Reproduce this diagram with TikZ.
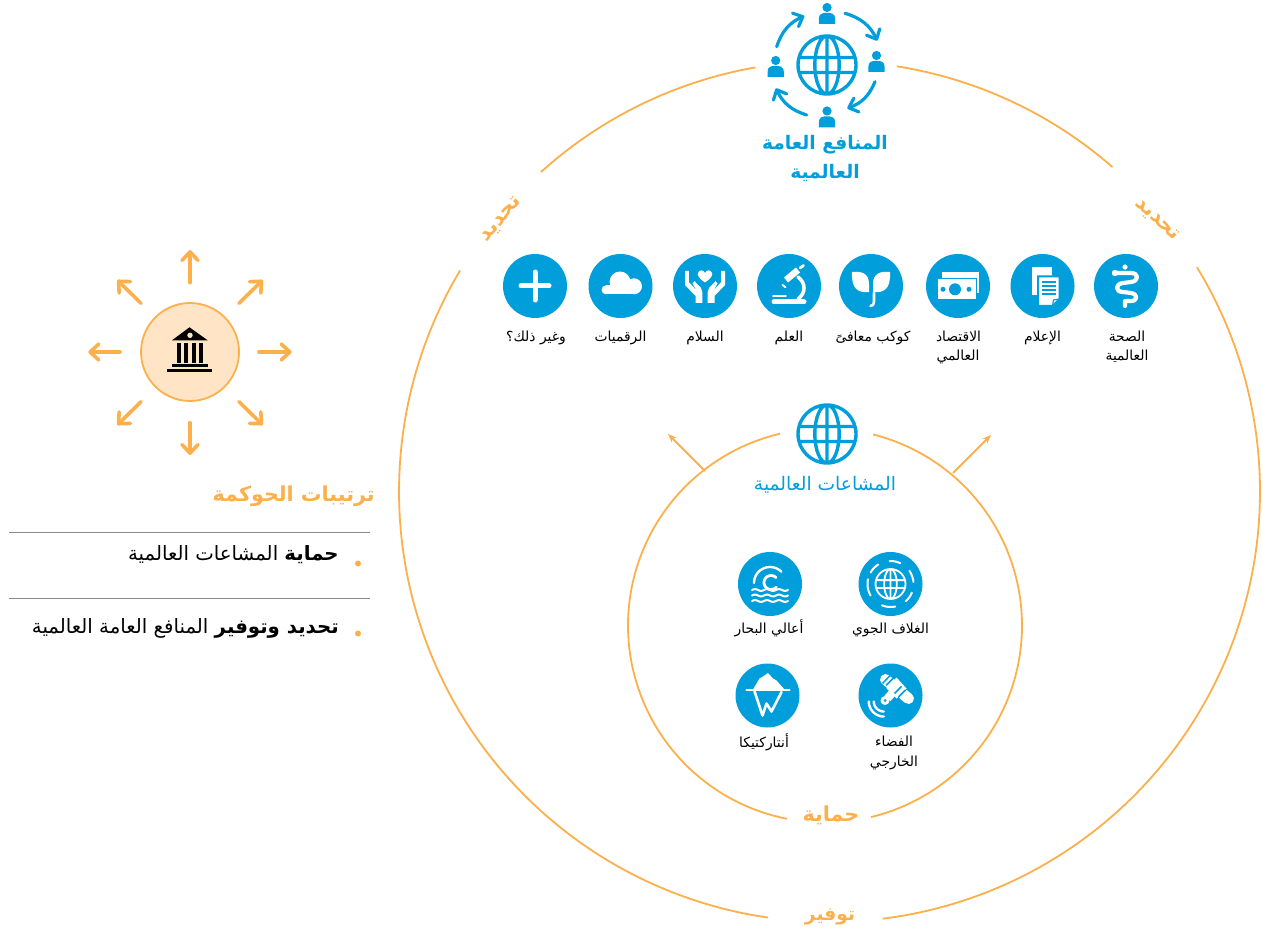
\documentclass[tikz,border=0pt]{standalone}
\usepackage{fontspec}
\setmainfont[Script=Arabic]{DejaVu Sans}
\TeXXeTstate=1
\usetikzlibrary{arrows.meta}
\definecolor{unblue}{HTML}{009EDB}
\definecolor{unorange}{HTML}{FBB04C}
\definecolor{palefill}{HTML}{FFE4C6}
\definecolor{rulegrey}{HTML}{8A8A8C}
\newcommand\AR[1]{\beginR #1\endR}
\newcommand\fsz[1]{\fontsize{#1}{#1}\selectfont}
\newcommand\ringarc[5]{\draw[ringline] plot[domain=#4:#5,samples=120] ({#1+#3*cos(\x)},{#2+#3*sin(\x)});}
\newcommand\wglobe[3]{%
  \pgfmathsetmacro\glR{#1}\pgfmathsetmacro\glE{0.42*#1}\pgfmathsetmacro\glH{0.26*#1}\pgfmathsetmacro\glC{0.965*#1}%
  \draw[#3,lw=#2] (0,0) circle [radius=\glR] (0,0) ellipse [x radius=\glE,y radius=\glR] (0,-\glR)--(0,\glR) (-\glC,-\glH)--(\glC,-\glH) (-\glC,\glH)--(\glC,\glH);}
\newcommand\person[2]{\begin{scope}[shift={(#1,#2)}]
  \fill[unblue] (0,-6.5) circle (4.6);
  \fill[unblue] (-8.2,10) -- (-8.2,5) .. controls (-8.2,-0.5) and (-4,-1.2) .. (0,-1.2) .. controls (4,-1.2) and (8.2,-0.5) .. (8.2,5) -- (8.2,10) -- cycle;
\end{scope}}
\tikzset{
  x=0.75pt,y=-0.75pt,
  lw/.style={line width=#1*0.75pt},
  ringline/.style={draw=unorange,lw=1.8},
  iconbg/.style={circle,fill=unblue,minimum size=48pt,inner sep=0pt,draw=none},
  labeltext/.style={anchor=base,text=black,inner sep=0pt,font=\fsz{10.4}},
  titleorange/.style={anchor=base,text=unorange,inner sep=0pt,font=\bfseries\fsz{15.5}},
  titleblue/.style={anchor=base,text=unblue,inner sep=0pt,font=\bfseries\fsz{14}},
  blackitem/.style={anchor=base east,text=black,inner sep=0pt,font=\fsz{14.8}},
  sprout/.style={-{Stealth[length=6.5pt,width=5pt]},draw=unorange,lw=1.8},
  rayline/.style={-{Straight Barb[length=6.5pt,width=12pt,round]},draw=unorange,lw=3.6,line cap=round},
  swirl/.style={-{Straight Barb[length=6pt,width=11pt,round]},draw=unblue,lw=3.2,line cap=round},
  wst/.style={draw=white,line cap=round,line join=round},
}
\begin{document}
\begin{tikzpicture}
\useasboundingbox (0,0) rectangle (1263,930);
% rings
\ringarc{829.5}{491.5}{430.5}{-81}{-48.9}
\ringarc{829.5}{491.5}{430.5}{-31.4}{82.9}
\ringarc{829.5}{491.5}{430.5}{98.2}{210.9}
\ringarc{829.5}{491.5}{430.5}{227.9}{260.1}
\ringarc{825}{625.5}{197}{-75.9}{76.5}
\ringarc{825}{625.5}{197}{101.1}{256.8}
\coordinate (sa) at (705,471); \coordinate (sb) at (668,434);
\coordinate (sc) at (953,473); \coordinate (sd) at (991,435);
\draw[sprout] (sa) -- (sb);
\draw[sprout] (sc) -- (sd);
% ring labels
\node[titleorange,rotate=49] (lblL) at (504,222) {\AR{تحديد}};
\node[titleorange,rotate=-43] (lblR) at (1154.6,222.6) {\AR{تحديد}};
\node[titleorange] (lblP) at (831,821) {\AR{حماية}};
\node[titleorange,font=\bfseries\fsz{14}] (lblQ) at (830,920) {\AR{توفير}};
% top emblem
\begin{scope}[shift={(827,65)}]\wglobe{29}{3.4}{unblue}\end{scope}
\person{827}{14}\person{876.5}{62}\person{827}{117.5}\person{775.7}{67}
\coordinate (t1) at (845,13.3); \coordinate (t1e) at (877.3,40.7);
\coordinate (t2) at (875,81.7); \coordinate (t2e) at (847.3,108.3);
\coordinate (t3) at (806.7,115); \coordinate (t3e) at (776,88.3);
\coordinate (t4) at (776.7,46.7); \coordinate (t4e) at (804.3,16);
\draw[swirl] (t1) to[bend left=24] (t1e);
\draw[swirl] (t2) to[bend left=24] (t2e);
\draw[swirl] (t3) to[bend left=24] (t3e);
\draw[swirl] (t4) to[bend left=24] (t4e);
\node[titleblue] (tt1) at (825,150) {\AR{المنافع العامة}};
\node[titleblue] (tt2) at (825,179) {\AR{العالمية}};
% commons heading
\begin{scope}[shift={(827,434)}]\wglobe{29}{3.4}{unblue}\end{scope}
\node[titleblue,font=\fsz{14}] (cm) at (825,490) {\AR{المشاعات العالمية}};
% top row icons
\node[iconbg] (hA) at (1126,286) {};
\node[iconbg] (hB) at (1042.5,286) {};
\node[iconbg] (hC) at (958,286) {};
\node[iconbg] (hD) at (871,286) {};
\node[iconbg] (hE) at (789,286) {};
\node[iconbg] (hF) at (705,286) {};
\node[iconbg] (hG) at (620.5,286) {};
\node[iconbg] (hH) at (535,286) {};
\node[labeltext] (la1) at (1127,342) {\AR{الصحة}};
\node[labeltext] (la2) at (1127,361) {\AR{العالمية}};
\node[labeltext] (lb) at (1042.5,342) {\AR{الإعلام}};
\node[labeltext] (lc1) at (958.5,342) {\AR{الاقتصاد}};
\node[labeltext] (lc2) at (958,361) {\AR{العالمي}};
\node[labeltext] (ld) at (873,342) {\AR{كوكب معافىً}};
\node[labeltext] (le) at (789,342) {\AR{العلم}};
\node[labeltext] (lf) at (705,342) {\AR{السلام}};
\node[labeltext] (lg) at (620.5,342) {\AR{الرقميات}};
\node[labeltext] (lh) at (536,342) {\AR{وغير ذلك؟}};
% health
\begin{scope}[shift={(hA.center)}]
\draw[wst,lw=4.2] (-10,-13) -- (5,-13) .. controls (13,-13) and (13,-5) .. (5,-4) -- (-3,-3) .. controls (-11,-2) and (-11,6) .. (-3,6) -- (5,7) .. controls (12,8) and (12,15) .. (5,15) -- (-1,15) (-1,15)--(-1,20);
\fill[white] (-11,-13) circle (3.2);
\fill[white] (-1,-19) circle (2.6);
\end{scope}
% media
\begin{scope}[shift={(hB.center)}]
\fill[white] (-11,-19) rectangle (9,9);
\fill[white,draw=unblue,lw=2] (-4.5,-9.7) -- (17,-9.7) -- (17,13) -- (10,20) -- (-4.5,20) -- cycle;
\draw[unblue,lw=1.5] (-0.7,-4)--(13,-4) (-0.7,0)--(13,0) (-0.7,4)--(13,4) (-0.7,8)--(13,8);
\draw[unblue,lw=1.2] (17,13) -- (11,14) -- (10,20);
\end{scope}
% money
\begin{scope}[shift={(hC.center)}]
\fill[white] (-16.5,-13.5) rectangle (21,7);
\fill[white,draw=unblue,lw=1.5] (-20.5,-7.5) rectangle (18.5,13.5);
\fill[unblue] (-3,3.3) circle (6);
\fill[unblue] (-15,3.3) circle (2.5);
\fill[unblue] (11,3.3) circle (2.5);
\end{scope}
% plant
\begin{scope}[shift={(hD.center)}]
\fill[white] (-19,-14) .. controls (-10,-15) and (-2,-13) .. (-2,-2) -- (-2,6) .. controls (-12,7) and (-20,4) .. (-19,-14) -- cycle;
\fill[white] (19,-14) .. controls (10,-15) and (2,-13) .. (2,-2) -- (2,6) .. controls (12,7) and (20,4) .. (19,-14) -- cycle;
\draw[wst,lw=2.6] (3,7) -- (3,15) .. controls (3,19) and (1,20) .. (-0.5,20);
\end{scope}
% microscope
\begin{scope}[shift={(hE.center)}]
\draw[wst,lw=5] (-15,16) -- (15,16);
\draw[wst,lw=1.8] (-16,9.8) -- (-3,9.8);
\draw[wst,lw=6.5,line cap=butt] (-3,-6) -- (9,-16);
\draw[wst,lw=2.8] (11,-18) -- (14.5,-20.5);
\draw[wst,lw=2] (-6.5,-1) -- (-3.5,1.2);
\draw[wst,lw=3.6] (9,-9) .. controls (17,-3) and (17,7) .. (9,13);
\end{scope}
% hands
\begin{scope}[shift={(hF.center)}]
\fill[white] (0,-3.5) .. controls (-5,-7) and (-8,-10) .. (-7,-13) .. controls (-6,-16.5) and (-1.5,-16.5) .. (0,-13) .. controls (1.5,-16.5) and (6,-16.5) .. (7,-13) .. controls (8,-10) and (5,-7) .. (0,-3.5) -- cycle;
\foreach \s in {1,-1}{
\fill[white] (-20*\s,-15) -- (-16.2*\s,-15) -- (-16.2*\s,-4) -- (-8.5*\s,4.5) -- (-12.5*\s,-2.5) -- (-10.5*\s,-4.8) -- (-4*\s,2) -- (-2.7*\s,6) -- (-2.7*\s,17) -- (-9.5*\s,17) -- (-9.5*\s,10) -- (-20*\s,-1) -- cycle;
}
\end{scope}
% cloud
\begin{scope}[shift={(hG.center)}]
\fill[white] (-0.5,-4) circle (10.5);
\fill[white] (13.5,0.3) circle (8);
\fill[white] (-14.5,3.8) circle (4.5);
\fill[white] (-14.5,-0.7) rectangle (13.5,8.3);
\end{scope}
% plus
\begin{scope}[shift={(hH.center)}]
\draw[wst,lw=5] (-14,0)--(14,0) (0,-14)--(0,14);
\end{scope}
% commons icons
\node[iconbg] (cA) at (890.5,584) {};
\node[iconbg] (cB) at (770,584) {};
\node[iconbg] (cC) at (890.5,695.5) {};
\node[iconbg] (cD) at (767.5,695.5) {};
\node[labeltext] (ca) at (890.5,633) {\AR{الغلاف الجوي}};
\node[labeltext] (cb) at (769,633) {\AR{أعالي البحار}};
\node[labeltext] (cc1) at (894,746.5) {\AR{الفضاء}};
\node[labeltext] (cc2) at (894,766.5) {\AR{الخارجي}};
\node[labeltext] (cd) at (764,747.5) {\AR{أنتاركتيكا}};
% atmosphere
\begin{scope}[shift={(cA.center)}]
\wglobe{15}{1.8}{white}
\foreach \a/\b in {-92/-65,-150/-122,-35/-5,22/48,78/112,150/192}{
\draw[wst,lw=2] plot[domain=\a:\b,samples=20] ({23*cos(\x)},{23*sin(\x)});}
\end{scope}
% ocean
\begin{scope}[shift={(cB.center)}]
\draw[wst,lw=2.4] plot[domain=180:315,samples=30] ({16*cos(\x)},{-1+16*sin(\x)});
\draw[wst,lw=2.8] plot[domain=40:315,samples=30] ({1+7*cos(\x)},{-1.5+7*sin(\x)});
\foreach \y in {6,11.5,17}{
\draw[wst,lw=2] plot[domain=-18:18,samples=40] (\x,{\y+0.9*sin(\x*30)});}
\end{scope}
% satellite
\begin{scope}[shift={(cC.center)}]
\draw[white,lw=11,line cap=round] (-5,-16) -- (1,-11);
\draw[white,lw=11,line cap=round] (13,-1) -- (18,3);
\fill[white] (6,-18) -- (16,-7) -- (6,3) -- (-4,-7) -- cycle;
\draw[white,lw=8] (3,-4) -- (-3,3);
\fill[white] (-5.5,5) circle (4.5);
\draw[unblue,lw=1.5] (-0.5,-20) -- (-8,-12) (11,-9) -- (4,-2) (2.5,-17) -- (-4.5,-10) (15,-5.5) -- (8,1.5);
\fill[unblue] (-5.5,5) circle (1.5);
\draw[wst,lw=2.4] plot[domain=90:180,samples=20] ({-6.7+10*cos(\x)},{6+10*sin(\x)});
\draw[wst,lw=2.4] plot[domain=90:180,samples=20] ({-6.7+15*cos(\x)},{6+15*sin(\x)});
\end{scope}
% antarctica
\begin{scope}[shift={(cD.center)}]
\fill[white] (-14.5,-6) -- (-8,-17) -- (-4.5,-19) -- (0.5,-22.5) -- (5.5,-17) -- (9,-15) -- (17,-6) -- cycle;
\draw[wst,lw=2.4] (-21,-5.3) -- (22,-5.3);
\draw[wst,lw=2.6] (-13,-4.3) -- (-5,20) -- (-1,8) -- (4,16) -- (14,-3.5);
\end{scope}
% governance
\node[circle,fill=palefill,draw=unorange,lw=1.8,minimum size=73.5pt,inner sep=0pt] (gov) at (190,352) {};
\begin{scope}[shift={(gov.center)}]
\fill[black] (-18,-11.7) -- (-0.5,-24.7) -- (17.7,-11.7) -- cycle;
\fill[palefill] (0,-16.7) circle (2.7);
\fill[black] (-13,-9.3) rectangle (-9,10.7);
\fill[black] (-5.7,-9.3) rectangle (-1.7,10.7);
\fill[black] (2,-9.3) rectangle (6,10.7);
\fill[black] (9.3,-9.3) rectangle (13.3,10.7);
\fill[black] (-18.3,12.3) rectangle (18.3,15);
\fill[black] (-22.7,17.3) rectangle (22.3,20);
\end{scope}
\foreach \n/\xa/\ya/\xb/\yb in {a/190/282.7/190/250, b/259/352/291.7/352, c/190/422.7/190/455, d/120/352/88.3/352, e/239/303.3/262.7/280, f/141/303.3/117.3/280, g/239/401.7/262.7/425, h/141/401.7/117.3/425}{
  \coordinate (r\n s) at (\xa,\ya); \coordinate (r\n e) at (\xb,\yb);
  \draw[rayline] (r\n s) -- (r\n e);
}
\node[titleorange,anchor=base east] (gt) at (375,501) {\AR{ترتيبات الحوكمة}};
\coordinate (ru1) at (9,532); \coordinate (ru2) at (370,532);
\coordinate (ru3) at (9,598.5); \coordinate (ru4) at (370,598.5);
\draw[rulegrey,lw=1] (ru1) -- (ru2);
\draw[rulegrey,lw=1] (ru3) -- (ru4);
\fill[unorange] (358,563.5) circle (3);
\fill[unorange] (358,633.5) circle (3);
\node[blackitem] (it1) at (339,560) {\AR{\textbf{حماية} المشاعات العالمية}};
\node[blackitem] (it2) at (339,633) {\AR{\textbf{تحديد وتوفير} المنافع العامة العالمية}};
\end{tikzpicture}
\end{document}
